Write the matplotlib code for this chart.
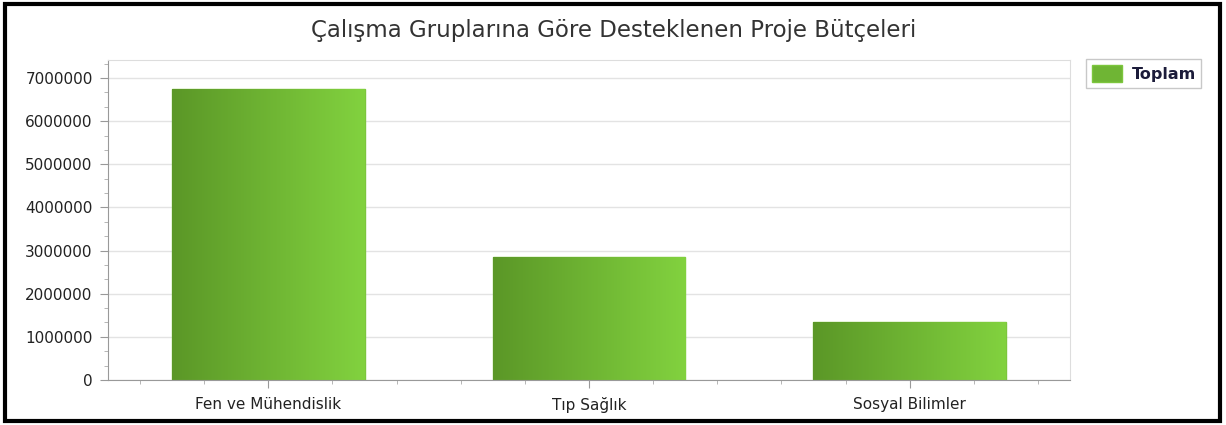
import numpy as np
import matplotlib
matplotlib.use("Agg")
import matplotlib.pyplot as plt
from matplotlib.patches import Rectangle
from matplotlib.colors import LinearSegmentedColormap
from matplotlib.ticker import MultipleLocator, FuncFormatter

# chart data
categories = ["Fen ve Mühendislik", "Tıp Sağlık", "Sosyal Bilimler"]
totals = [6745000, 2850000, 1345000]
series_name = "Toplam"
title = "Çalışma Gruplarına Göre Desteklenen Proje Bütçeleri"

plt.rcParams['font.family'] = ['DejaVu Sans']

fig = plt.figure(figsize=(12.26, 4.25), dpi=100)
ax = fig.add_axes([108 / 1226, 1 - 380 / 425, 962 / 1226, 320 / 425])

green = LinearSegmentedColormap.from_list("grn", ["#5b9727", "#82d23f"])
grad = np.linspace(0, 1, 256).reshape(1, -1)

x = np.arange(len(categories))
bars = ax.bar(x, totals, width=0.6, color="#6fb534", edgecolor="#7cc63d",
              linewidth=1, label=series_name, zorder=2)
for b in bars:
    bx, by, bw, bh = b.get_x(), b.get_y(), b.get_width(), b.get_height()
    im = ax.imshow(grad, cmap=green, aspect="auto", extent=[bx, bx + bw, by, by + bh],
                   zorder=2.5, interpolation="bicubic")
    im.set_clip_path(b)

ax.set_xlim(-0.5, len(categories) - 0.5)
ax.set_ylim(0, 7.42e6)

ax.set_xticks(x)
ax.set_xticklabels(categories)
ax.xaxis.set_minor_locator(MultipleLocator(0.2))
ax.yaxis.set_major_locator(MultipleLocator(1e6))
ax.yaxis.set_minor_locator(MultipleLocator(1e6 / 3))
ax.yaxis.set_major_formatter(FuncFormatter(lambda v, p: f"{int(round(v))}"))

ax.tick_params(axis="both", which="major", labelsize=11, labelcolor="#222222",
               color="#999999", length=6)
ax.tick_params(axis="both", which="minor", color="#aaaaaa", length=3)
ax.tick_params(axis="x", which="major", pad=6)
ax.tick_params(axis="y", which="major", pad=5)

ax.grid(axis="y", which="major", color="#e3e3e3", linewidth=1, zorder=0)
for s in ["top", "right"]:
    ax.spines[s].set_color("#dddddd")
for s in ["left", "bottom"]:
    ax.spines[s].set_color("#999999")

fig.text(614 / 1226, 1 - 30 / 425, title, ha="center", va="center",
         fontsize=16.5, color="#333333")

leg = ax.legend(loc="upper left", bbox_to_anchor=(1086 / 1226, 1 - 59 / 425),
                bbox_transform=fig.transFigure, frameon=True, fancybox=False,
                prop={"weight": "bold", "size": 11.5}, handlelength=1.9,
                handleheight=1.3, handletextpad=0.6, borderpad=0.35,
                borderaxespad=0)
leg.get_frame().set_edgecolor("#bbbbbb")
leg.get_frame().set_linewidth(1)
for t in leg.get_texts():
    t.set_color("#1c1c3a")

fig.patches.append(Rectangle((5 / 1226, 4 / 425), 1215 / 1226, 417 / 425,
                             transform=fig.transFigure, fill=False,
                             edgecolor="black", linewidth=3))

fig.savefig("out.png", dpi=100)
plt.close(fig)
